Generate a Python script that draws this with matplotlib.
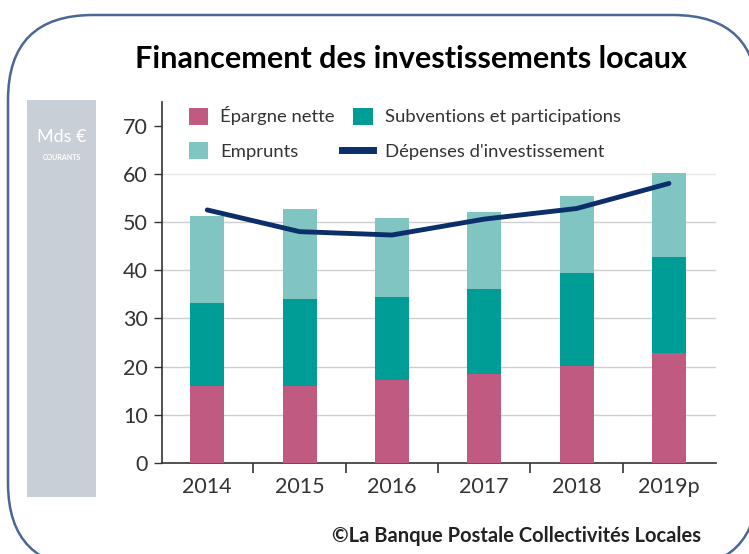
import matplotlib.pyplot as plt
import numpy as np
from matplotlib.lines import Line2D
from matplotlib.patches import FancyBboxPatch, Patch, Rectangle

years = ["2014", "2015", "2016", "2017", "2018", "2019p"]
epargne = [16.0, 16.0, 17.3, 18.5, 20.2, 22.9]
subventions = [17.1, 18.0, 17.1, 17.7, 19.2, 19.8]
emprunts = [18.2, 18.6, 16.5, 15.9, 16.0, 17.5]
depenses = [52.5, 48.0, 47.3, 50.6, 52.8, 58.0]

c_epargne = "#c05a80"
c_subv = "#009c96"
c_empr = "#80c5c2"
c_line = "#0b2f6a"
txt = "#333333"

plt.rcParams["font.family"] = ["Lato", "DejaVu Sans"]

fig = plt.figure(figsize=(7.49, 5.54), dpi=100)

# frame round the whole thing, partly off the canvas
frame = FancyBboxPatch(
    (0.08, -0.14), 7.50, 5.53,
    boxstyle="round,pad=0,rounding_size=0.85",
    transform=fig.dpi_scale_trans,
    facecolor="white", edgecolor="#4a6795", linewidth=1.8,
    clip_on=False, zorder=0,
)
fig.add_artist(frame)

# grey side band with the unit
band = Rectangle((0.036, 0.103), 0.092, 0.717, transform=fig.transFigure,
                 facecolor="#c9cfd6", edgecolor="none", zorder=1)
fig.add_artist(band)
fig.text(0.082, 0.752, "Mds €", color="white", fontsize=13,
         ha="center", va="center", zorder=5)
fig.text(0.082, 0.716, "COURANTS", color="white", fontsize=5, fontweight="bold",
         ha="center", va="center", zorder=5)

fig.text(0.549, 0.893, "Financement des investissements locaux", fontsize=22,
         fontweight="bold", color="black", ha="center", va="center")
fig.text(0.6896, 0.032, "©La Banque Postale Collectivités Locales", fontsize=14.5,
         fontweight="bold", color="#222222", ha="center", va="center")

ax = fig.add_axes([0.2163, 0.1643, 0.7397, 0.6516])
ax.set_zorder(2)
ax.patch.set_alpha(0)

x = np.arange(len(years))
w = 0.37
ep = np.array(epargne)
sb = np.array(subventions)
em = np.array(emprunts)
ax.bar(x, ep, w, color=c_epargne, zorder=3)
ax.bar(x, sb, w, bottom=ep, color=c_subv, zorder=3)
ax.bar(x, em, w, bottom=ep + sb, color=c_empr, zorder=3)
ax.plot(x, depenses, color=c_line, lw=3.5, solid_capstyle="round", zorder=4)

for v in [10, 20, 30, 40, 50]:
    ax.axhline(v, color="#cfcfcf", lw=1.0, zorder=1)
ax.axhline(60, color="#e6e6e6", lw=1.0, zorder=1)

ax.set_xlim(-0.49, 5.51)
ax.set_ylim(0, 74.9)
ax.set_yticks(range(0, 80, 10))
ax.set_xticks(x)
ax.set_xticklabels(years)
ax.set_xticks(x[:-1] + 0.5, minor=True)
ax.tick_params(axis="x", which="major", length=0, pad=10, labelsize=15.5, labelcolor=txt)
ax.tick_params(axis="x", which="minor", length=7, width=1.2, color="#333333", direction="out")
ax.tick_params(axis="y", length=6, width=1.0, color="#333333", pad=4,
               labelsize=15.5, labelcolor=txt, direction="out")
for s in ["top", "right"]:
    ax.spines[s].set_visible(False)
for s in ["left", "bottom"]:
    ax.spines[s].set_color("#333333")
    ax.spines[s].set_linewidth(1.2)

handles = [
    Patch(facecolor=c_epargne, edgecolor="none", label="Épargne nette"),
    Patch(facecolor=c_empr, edgecolor="none", label="Emprunts"),
    Patch(facecolor=c_subv, edgecolor="none", label="Subventions et participations"),
    Line2D([], [], color=c_line, lw=5, label="Dépenses d'investissement"),
]
leg = ax.legend(handles=handles, ncol=2, loc="upper left", bbox_to_anchor=(0.035, 1.008),
                frameon=False, fontsize=13.3, handlelength=1.05, handleheight=1.05,
                handletextpad=0.65, columnspacing=1.0, labelspacing=0.9, borderaxespad=0)
for t in leg.get_texts():
    t.set_color(txt)
# the line key is drawn longer than the squares
key = leg.get_lines()[0]
xd = np.asarray(key.get_xdata(), dtype=float)
key.set_xdata(np.linspace(xd[0] - 0.6 * (xd[-1] - xd[0]), xd[-1], len(xd)))

fig.savefig("out.png", dpi=100)
